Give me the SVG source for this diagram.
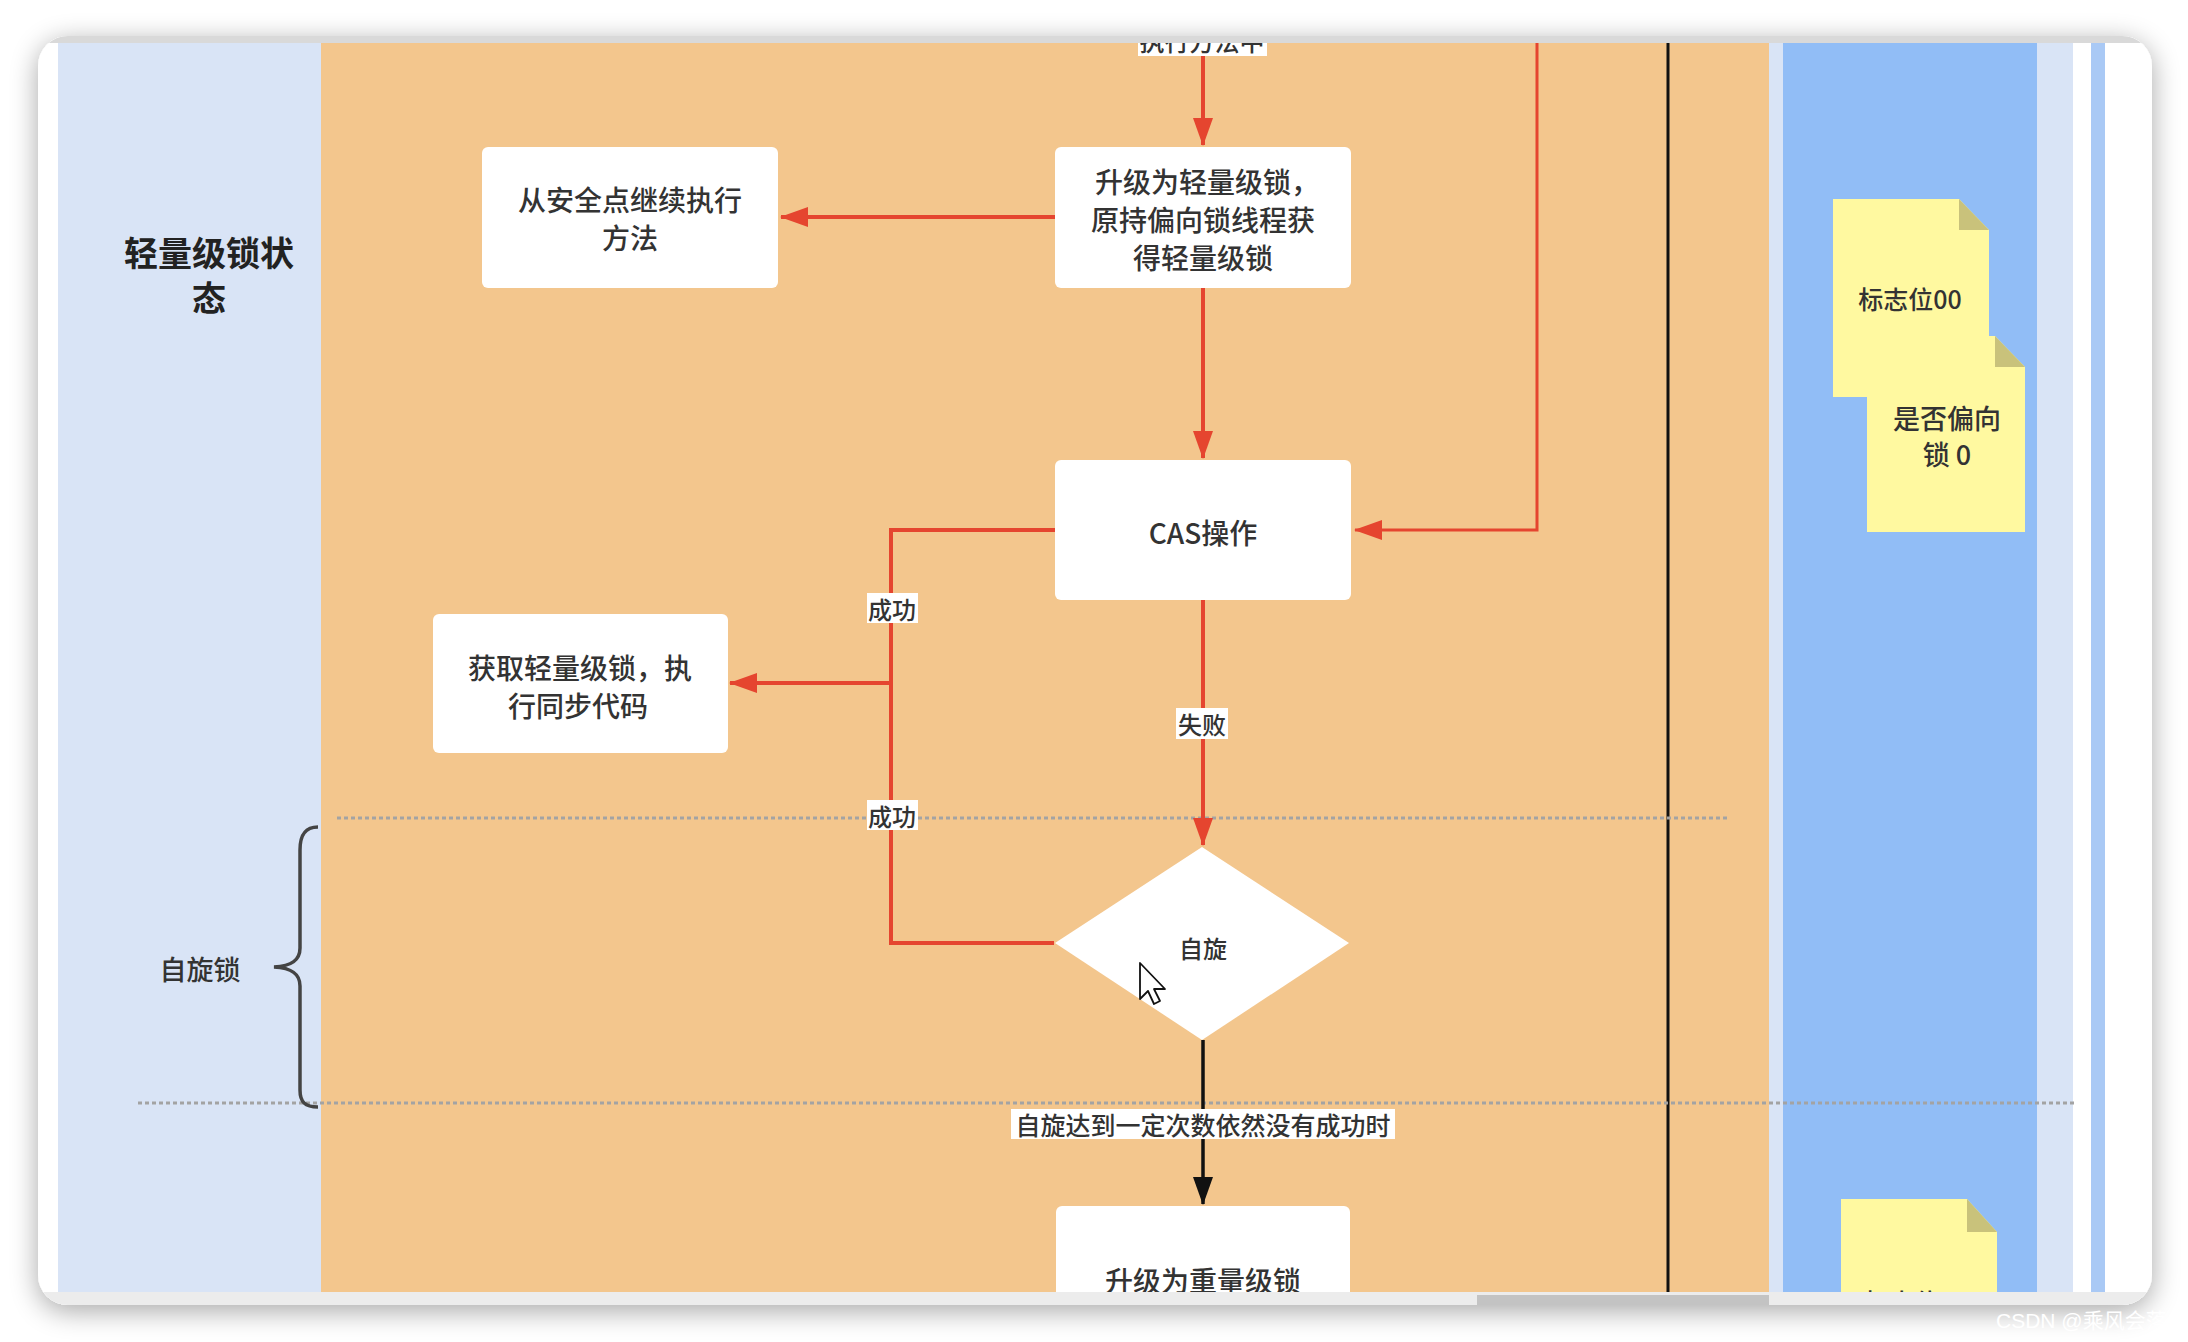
<svg xmlns="http://www.w3.org/2000/svg" width="2188" height="1342" viewBox="0 0 2188 1342">
<defs>
<style>
.t{font-family:"Noto Sans CJK SC","Noto Sans",sans-serif;fill:#333;text-anchor:middle;dominant-baseline:central;font-weight:500;}
.title{font-weight:bold;fill:#222;}
.box{fill:#ffffff;}
.red{fill:none;stroke:#e5452f;stroke-width:4;}
.blk{fill:none;stroke:#111;stroke-width:3.5;}
.lbl{fill:#ffffff;}
.dash{fill:none;stroke:#a3a3a3;stroke-width:3;stroke-dasharray:4 3;}
.note{fill:#fff9a0;}
.fold{fill:#c9c27b;}
</style>
<filter id="shadow" x="-10%" y="-10%" width="120%" height="120%">
<feGaussianBlur in="SourceAlpha" stdDeviation="14"/>
<feOffset dy="6" result="b"/>
<feComponentTransfer><feFuncA type="linear" slope="0.35"/></feComponentTransfer>
<feMerge><feMergeNode/><feMergeNode in="SourceGraphic"/></feMerge>
</filter>
<clipPath id="win"><rect x="38" y="36" width="2114" height="1269" rx="30"/></clipPath>
<clipPath id="content"><rect x="58" y="43" width="2047" height="1249"/></clipPath>
<marker id="ar" markerUnits="userSpaceOnUse" markerWidth="28" markerHeight="20" refX="27" refY="10" orient="auto">
<path d="M0,0 L28,10 L0,20 Z" fill="#e5452f"/>
</marker>
<marker id="ab" markerUnits="userSpaceOnUse" markerWidth="28" markerHeight="20" refX="27" refY="10" orient="auto">
<path d="M0,0 L28,10 L0,20 Z" fill="#111"/>
</marker>
</defs>

<rect width="2188" height="1342" fill="#ffffff"/>
<rect x="38" y="36" width="2114" height="1269" rx="30" fill="#ffffff" filter="url(#shadow)"/>

<g id="window-chrome" clip-path="url(#win)">
<rect x="38" y="36" width="2114" height="7" fill="#d9d9d9"/>
<rect x="38" y="1292" width="2114" height="13" fill="#ececec"/>
<rect x="1477" y="1295" width="292" height="10" fill="#c3c3c3"/>
</g>

<g id="lanes" clip-path="url(#content)">
<rect x="58" y="43" width="263" height="1249" fill="#d9e4f6"/>
<rect x="321" y="43" width="1448" height="1249" fill="#f3c68d"/>
<rect x="1769" y="43" width="14" height="1249" fill="#d9e4f6"/>
<rect x="1783" y="43" width="254" height="1249" fill="#91bdf6"/>
<rect x="2037" y="43" width="36" height="1249" fill="#d9e4f6"/>
<rect x="2073" y="43" width="18" height="1249" fill="#ffffff"/>
<rect x="2091" y="43" width="14" height="1249" fill="#a9c9f5"/>
<line x1="1668" y1="43" x2="1668" y2="1292" stroke="#111" stroke-width="3"/>
<line class="dash" x1="337" y1="818" x2="1730" y2="818"/>
<line class="dash" x1="138" y1="1103" x2="2075" y2="1103"/>
</g>

<g id="lane-title">
<text class="t title" x="209" y="251" font-size="34">轻量级锁状</text>
<text class="t title" x="209" y="296" font-size="34">态</text>
</g>

<g id="spin-brace">
<path d="M318,827 C305,827 300,835 300,850 V948 C300,960 292,966 274,967 C292,968 300,974 300,986 V1090 C300,1102 305,1107 318,1107" fill="none" stroke="#444" stroke-width="3.5"/>
<text class="t" x="200" y="968" font-size="27" fill="#444">自旋锁</text>
</g>

<g id="connectors" clip-path="url(#content)">
<path class="red" d="M1203,43 V145" marker-end="url(#ar)"/>
<path class="red" d="M1055,217 H781" marker-end="url(#ar)"/>
<path class="red" d="M1203,288 V458" marker-end="url(#ar)"/>
<path class="red" style="stroke-width:3" d="M1537,43 V530 H1355" marker-end="url(#ar)"/>
<path class="red" d="M1055,530 H891 V683 H730" marker-end="url(#ar)"/>
<path class="red" d="M1054,943 H891 V683"/>
<path class="red" d="M1203,600 V845" marker-end="url(#ar)"/>
<path class="blk" d="M1203,1040 V1204" marker-end="url(#ab)"/>
<rect class="lbl" x="1138" y="26" width="129" height="30"/>
<text class="t" x="1202" y="40" font-size="25">执行方法中</text>
<rect class="lbl" x="867" y="593" width="51" height="30"/>
<text class="t" x="892" y="608" font-size="24">成功</text>
<rect class="lbl" x="867" y="800" width="51" height="30"/>
<text class="t" x="892" y="815" font-size="24">成功</text>
<rect class="lbl" x="1176" y="708" width="52" height="31"/>
<text class="t" x="1202" y="723" font-size="24">失败</text>
<rect class="lbl" x="1011" y="1109" width="384" height="30"/>
<text class="t" x="1203" y="1124" font-size="25">自旋达到一定次数依然没有成功时</text>
</g>

<g id="node-safepoint">
<rect class="box" x="482" y="147" width="296" height="141" rx="6"/>
<text class="t" x="630" y="199" font-size="28">从安全点继续执行</text>
<text class="t" x="630" y="237" font-size="28">方法</text>
</g>

<g id="node-upgrade-light">
<rect class="box" x="1055" y="147" width="296" height="141" rx="6"/>
<text class="t" x="1207" y="181" font-size="28">升级为轻量级锁，</text>
<text class="t" x="1203" y="219" font-size="28">原持偏向锁线程获</text>
<text class="t" x="1203" y="257" font-size="28">得轻量级锁</text>
</g>

<g id="node-cas">
<rect class="box" x="1055" y="460" width="296" height="140" rx="6"/>
<text class="t" x="1203" y="532" font-size="28">CAS操作</text>
</g>

<g id="node-acquire">
<rect class="box" x="433" y="614" width="295" height="139" rx="6"/>
<text class="t" x="580" y="667" font-size="28">获取轻量级锁，执</text>
<text class="t" x="578" y="705" font-size="28">行同步代码</text>
</g>

<g id="node-spin">
<path class="box" d="M1202,847 L1349,943 L1202,1040 L1055,943 Z"/>
<text class="t" x="1203" y="947" font-size="24">自旋</text>
</g>

<g id="node-heavy" clip-path="url(#content)">
<rect class="box" x="1056" y="1206" width="294" height="140" rx="6"/>
<text class="t" x="1203" y="1280" font-size="28">升级为重量级锁</text>
</g>

<g id="note-flag00">
<path class="note" d="M1833,199 H1959 L1989,230 V397 H1833 Z"/>
<path class="fold" d="M1959,199 V230 H1989 Z"/>
<text class="t" x="1910" y="298" font-size="25">标志位00</text>
</g>

<g id="note-biased">
<path class="note" d="M1867,336 H1995 L2025,367 V532 H1867 Z"/>
<path class="fold" d="M1995,336 V367 H2025 Z"/>
<text class="t" x="1947" y="417" font-size="27">是否偏向</text>
<text class="t" x="1947" y="453" font-size="27">锁 0</text>
</g>

<g id="note-flag10" clip-path="url(#content)">
<path class="note" d="M1841,1199 H1967 L1997,1232 V1320 H1841 Z"/>
<path class="fold" d="M1967,1199 V1232 H1997 Z"/>
<text class="t" x="1916" y="1301" font-size="25">标志位10</text>
</g>

<g id="cursor">
<path d="M1140,963 V999 L1148,991 L1154,1004 L1160,1001 L1154,989 L1165,989 Z" fill="#ffffff" stroke="#111" stroke-width="1.8" stroke-linejoin="round"/>
</g>

<text x="1996" y="1328" font-family="Liberation Sans, Noto Sans CJK SC, sans-serif" font-size="21" fill="#ffffff">CSDN @乘风会落</text>
</svg>
